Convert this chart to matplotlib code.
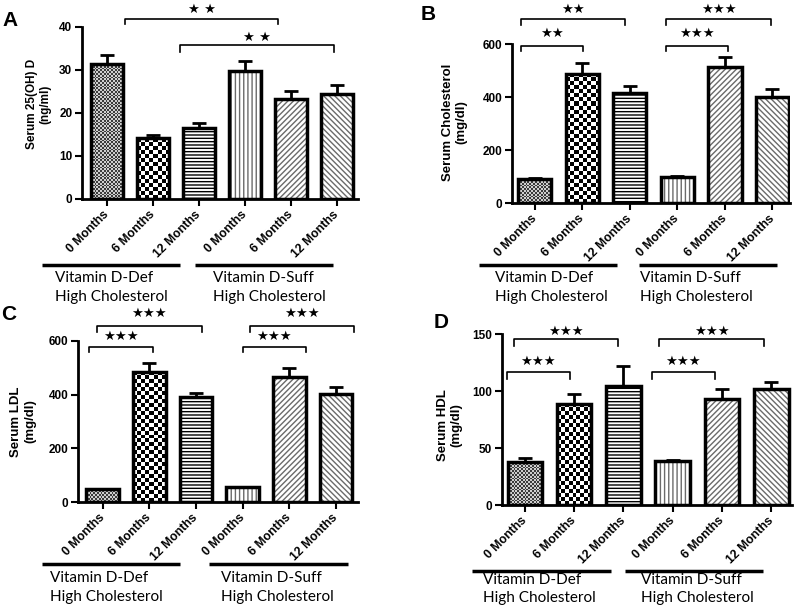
import numpy as np
import matplotlib
matplotlib.use("Agg")
import matplotlib.pyplot as plt
from matplotlib import transforms
from matplotlib.colors import ListedColormap

# ---------------- data ----------------
categories = ["0 Months", "6 Months", "12 Months", "0 Months", "6 Months", "12 Months"]
groups = ["Vitamin D-Def\nHigh Cholesterol", "Vitamin D-Suff\nHigh Cholesterol"]

vitd_mean = [31.3, 14.1, 16.5, 29.7, 23.3, 24.3]
vitd_sem = [2.2, 0.7, 1.1, 2.4, 1.8, 2.2]

chol_mean = [90, 487, 414, 99, 512, 399]
chol_sem = [3, 40, 28, 5, 38, 30]

ldl_mean = [49, 483, 390, 56, 466, 401]
ldl_sem = [2, 35, 15, 2, 34, 26]

hdl_mean = [38, 88.8, 104.6, 38.7, 93.4, 101.7]
hdl_sem = [3, 8.5, 17.8, 0.8, 8.3, 6.1]

ylabels = ["Serum 25(OH) D\n(ng/ml)", "Serum Cholesterol\n(mg/dl)",
           "Serum LDL\n(mg/dl)", "Serum HDL\n(mg/dl)"]
yticks_list = [[0, 10, 20, 30, 40], [0, 200, 400, 600], [0, 200, 400, 600], [0, 50, 100, 150]]
panel_letters = ["A", "B", "C", "D"]

# significance brackets: (x_start, x_end, y_top, y_bottom, y_star, label)
brackets_A = [(0.4, 3.72, 41.9, 40.7, 44.0, "★ ★"), (1.6, 4.93, 35.8, 34.2, 37.6, "★ ★")]
brackets_B = [(-0.3, 1.9, 694, 672, 732, "★★"), (-0.3, 1.01, 594, 575, 641, "★★"),
              (2.76, 4.97, 694, 672, 732, "★★★"), (2.76, 4.06, 594, 575, 641, "★★★")]
brackets_C = [(-0.13, 2.12, 656, 631, 700, "★★★"), (-0.29, 1.08, 578, 559, 615, "★★★"),
              (3.15, 5.39, 656, 631, 700, "★★★"), (3.0, 4.35, 578, 559, 615, "★★★")]
brackets_D = [(-0.22, 1.89, 145.6, 140, 153, "★★★"), (-0.37, 0.91, 116.6, 110.5, 126, "★★★"),
              (2.72, 4.85, 145.6, 140, 153, "★★★"), (2.58, 3.85, 116.6, 110.5, 126, "★★★")]

# ---------------- layout ----------------
W, H = 800, 610
fig = plt.figure(figsize=(W / 100, H / 100), dpi=100)

panels = [
    dict(rect=[0.1025, 0.6738, 0.345, 0.282], xlim=(-0.54, 5.46), ylim=(0, 40),
         mean=vitd_mean, sem=vitd_sem, br=brackets_A, ylfs=8.5, lab=(-0.11, 0.55),
         letter=(10, 21), glines=[(-1.41, 1.59), (1.92, 4.92)], gline_y=265,
         gtext_x=[-1.13, 2.31], gtext_y=(278, 297)),
    dict(rect=[0.64, 0.667, 0.3475, 0.2607], xlim=(-0.48, 5.37), ylim=(0, 600),
         mean=chol_mean, sem=chol_sem, br=brackets_B, ylfs=9.5, lab=(-0.16, 0.51),
         letter=(428, 14), glines=[(-1.18, 1.73), (2.19, 5.09)], gline_y=265,
         gtext_x=[-0.84, 2.21], gtext_y=(278, 297)),
    dict(rect=[0.0975, 0.1766, 0.35, 0.265], xlim=(-0.53, 5.47), ylim=(0, 600),
         mean=ldl_mean, sem=ldl_sem, br=brackets_C, ylfs=9.5, lab=(-0.15, 0.50),
         letter=(9, 314), glines=[(-1.3, 1.66), (2.28, 5.25)], gline_y=564,
         gtext_x=[-1.13, 2.53], gtext_y=(578, 597)),
    dict(rect=[0.627, 0.172, 0.3625, 0.2798], xlim=(-0.47, 5.41), ylim=(0, 150),
         mean=hdl_mean, sem=hdl_sem, br=brackets_D, ylfs=9.5, lab=(-0.135, 0.47),
         letter=(441, 322), glines=[(-1.07, 1.74), (2.03, 4.83)], gline_y=571,
         gtext_x=[-0.85, 2.35], gtext_y=(580, 598)),
]

# bar fill styles (by bar index)
styles = ["fine", "check", "-----", "||||", "//////", "\\\\\\\\\\\\"]
hatch_colors = ["black", "black", "black", "#6a6a6a", "#6a6a6a", "#6a6a6a"]

BOLD = dict(family="Liberation Sans", weight="bold")
GROUPFONT = dict(family=["Lato", "DejaVu Sans"])

bar_w = 0.7

for pi, p in enumerate(panels):
    ax = fig.add_axes(p["rect"])
    x = np.arange(len(categories))
    mean = np.array(p["mean"], dtype=float)
    sem = np.array(p["sem"], dtype=float)
    ax.set_xlim(*p["xlim"])
    ax.set_ylim(*p["ylim"])

    # error bars (upper only)
    ax.errorbar(x, mean, yerr=[np.zeros_like(sem), sem], fmt="none", ecolor="black",
                elinewidth=2, capsize=5, capthick=2, zorder=1)

    # hatch layer
    fills = ax.bar(x, mean, bar_w, color="white", edgecolor=hatch_colors, linewidth=0, zorder=2)
    ax_wpx = p["rect"][2] * W
    ax_hpx = p["rect"][3] * H
    pxx = ax_wpx / (p["xlim"][1] - p["xlim"][0])
    pxy = ax_hpx / (p["ylim"][1] - p["ylim"][0])
    for i, patch in enumerate(fills):
        st = styles[i]
        if st in ("fine", "check"):
            cell = 1.8 if st == "fine" else 4.0
            cols = ["#3c3c3c", "#cfcfcf"] if st == "fine" else ["black", "white"]
            nc = max(1, int(round(bar_w * pxx / cell)))
            nr = max(1, int(round(mean[i] * pxy / cell)))
            arr = np.add.outer(np.arange(nr), np.arange(nc)) % 2
            im = ax.imshow(arr, extent=(x[i] - bar_w / 2, x[i] + bar_w / 2, 0, mean[i]),
                           origin="lower", aspect="auto", interpolation="nearest",
                           cmap=ListedColormap(cols), zorder=2.5)
            im.set_clip_path(patch)
        else:
            patch.set_hatch(st)
    # outlines
    ax.bar(x, mean, bar_w, fill=False, edgecolor="black", linewidth=2.5, zorder=3)

    ax.set_xlim(*p["xlim"])
    ax.set_ylim(*p["ylim"])

    # axes styling
    for s in ["top", "right"]:
        ax.spines[s].set_visible(False)
    for s in ["left", "bottom"]:
        ax.spines[s].set_linewidth(2)
    ax.set_yticks(yticks_list[pi])
    ax.set_yticklabels([str(t) for t in yticks_list[pi]], fontsize=8.5, **BOLD)
    ax.set_xticks(x)
    ax.set_xticklabels(categories, fontsize=8.8, rotation=45, ha="right", va="center",
                       rotation_mode="anchor", **BOLD)
    ax.tick_params(axis="both", direction="out", length=5, width=1.5, pad=2)
    ax.tick_params(axis="x", pad=5)

    ax.set_ylabel(ylabels[pi], fontsize=p["ylfs"], **BOLD)
    ax.yaxis.set_label_coords(*p["lab"])

    # significance brackets
    for (x0, x1, yt, yb, ys, lab) in p["br"]:
        ax.plot([x0, x0, x1, x1], [yb, yt, yt, yb], color="black", lw=1.2,
                clip_on=False, zorder=4)
        ax.text((x0 + x1) / 2, ys, lab, ha="center", va="center", fontsize=9.5,
                family="DejaVu Sans", clip_on=False)

    # group lines and labels
    blend = transforms.blended_transform_factory(ax.transData, fig.transFigure)
    gy = 1 - p["gline_y"] / H
    for (g0, g1) in p["glines"]:
        ax.plot([g0, g1], [gy, gy], color="black", lw=2.5, transform=blend,
                clip_on=False, solid_capstyle="butt")
    for gi, gname in enumerate(groups):
        l1, l2 = gname.split("\n")
        ax.text(p["gtext_x"][gi], 1 - p["gtext_y"][0] / H, l1, transform=blend,
                ha="left", va="center", fontsize=11, **GROUPFONT)
        ax.text(p["gtext_x"][gi], 1 - p["gtext_y"][1] / H, l2, transform=blend,
                ha="left", va="center", fontsize=11, **GROUPFONT)
    ax.set_xlim(*p["xlim"])
    ax.set_ylim(*p["ylim"])

    # panel letter
    lx, ly = p["letter"]
    fig.text(lx / W, 1 - ly / H, panel_letters[pi], ha="center", va="center",
             fontsize=15, **BOLD)

fig.savefig("out.png", dpi=100)
